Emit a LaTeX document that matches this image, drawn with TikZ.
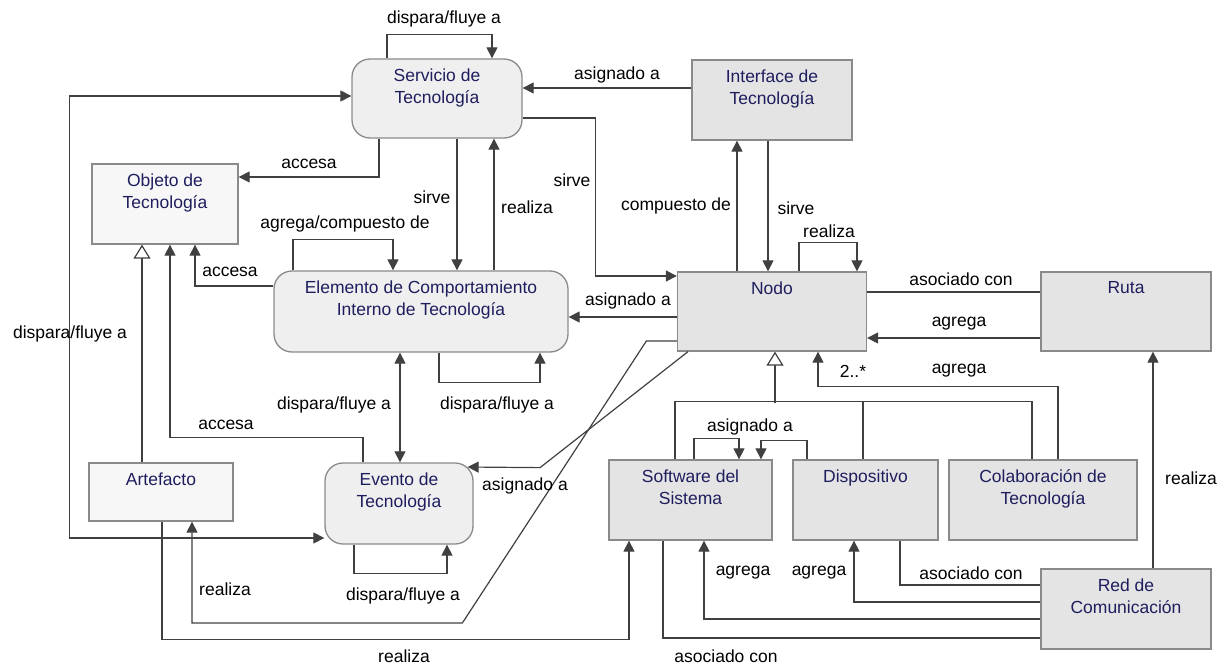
\documentclass[tikz,border=0pt]{standalone}
\usepackage{fontspec}
\setmainfont{Liberation Sans}
\usetikzlibrary{arrows.meta}
\definecolor{ink}{RGB}{30,30,95}
\definecolor{edge}{RGB}{138,138,138}
\definecolor{wire}{RGB}{64,64,64}
\definecolor{fillA}{RGB}{239,239,239}
\definecolor{fillB}{RGB}{228,228,228}
\definecolor{fillC}{RGB}{247,247,247}

\begin{document}
\begin{tikzpicture}[
  x=1pt,y=-1pt,
  >={Triangle[length=11pt,width=11pt]},
  every node/.style={font=\fontsize{17.5}{22.5}\selectfont},
  box/.style={draw=edge,line width=1.3pt,fill=fillB,inner sep=0pt},
  soft/.style={box,fill=fillA,rounded corners=18pt},
  pale/.style={box,fill=fillC},
  txt/.style={anchor=north,align=center,text=ink,inner xsep=2pt,inner ysep=10pt},
  wireline/.style={draw=wire,line width=1.2pt},
  arc/.style={wireline,->},
  gen/.style={wireline,-{Triangle[open,length=14pt,width=17pt,fill=white]}},
  lbl/.style={inner sep=0pt,text=black}
]
\useasboundingbox (0,0) rectangle (1226,668);

% elements
\node[soft,minimum width=170pt,minimum height=79pt,label={[txt]north:Servicio de\\Tecnología}] (srv) at (437,98.5) {};
\node[box,minimum width=160pt,minimum height=80pt,label={[txt]north:Interface de\\Tecnología}] (ifc) at (772,100) {};
\node[pale,minimum width=146pt,minimum height=80pt,label={[txt]north:Objeto de\\Tecnología}] (obj) at (165,204) {};
\node[soft,minimum width=294pt,minimum height=81pt,label={[txt]north:Elemento de Comportamiento\\Interno de Tecnología}] (elem) at (421,311.5) {};
\node[box,minimum width=189pt,minimum height=79pt,label={[txt]north:Nodo}] (nodo) at (772,311.5) {};
\node[box,minimum width=170pt,minimum height=79pt,label={[txt]north:Ruta}] (ruta) at (1126,311.5) {};
\node[pale,minimum width=144pt,minimum height=58pt,label={[txt]north:Artefacto}] (art) at (161,492) {};
\node[soft,minimum width=148pt,minimum height=81pt,label={[txt]north:Evento de\\Tecnología}] (evt) at (399,503.5) {};
\node[box,minimum width=163pt,minimum height=80pt,label={[txt]north:Software del\\Sistema}] (sw) at (690.5,500) {};
\node[box,minimum width=145pt,minimum height=80pt,label={[txt]north:Dispositivo}] (disp) at (865.5,500) {};
\node[box,minimum width=188pt,minimum height=80pt,label={[txt]north:Colaboración de\\Tecnología}] (colab) at (1043,500) {};
\node[box,minimum width=170pt,minimum height=80pt,label={[txt]north:Red de\\Comunicación}] (red) at (1126,609) {};

% relations
\draw[arc] ([xshift=-50pt]srv.north) -- ++(0,-24) -| ([xshift=55pt]srv.north);
\draw[arc] ([yshift=12pt]ifc.west) -- ([yshift=10.5pt]srv.east);
\draw[arc] ([yshift=-19.5pt]srv.east) -- ++(73,0) |- ([yshift=35.5pt]nodo.west);
\draw[arc] ([xshift=-58pt]srv.south) |- ([yshift=27pt]obj.east);
\draw[arc] ([xshift=20pt]srv.south) -- ([xshift=36pt]elem.north);
\draw[arc] ([xshift=73pt]elem.north) -- ([xshift=57pt]srv.south);
\draw[arc] ([xshift=-4pt]ifc.south) -- ([xshift=-4pt]nodo.north);
\draw[arc] ([xshift=-35pt]nodo.north) -- ([xshift=-35pt]ifc.south);
\draw[arc] ([xshift=27pt]nodo.north) -- ++(0,-29) -| ([xshift=85pt]nodo.north);
\draw[wireline] ([yshift=19.5pt]nodo.east) -- ([yshift=19.5pt]ruta.west);
\draw[arc] ([yshift=-26.5pt]ruta.west) -- ([yshift=-26.5pt]nodo.east);
\draw[arc] ([yshift=-5.5pt]nodo.west) -- ([yshift=-5.5pt]elem.east);
\draw[arc] ([xshift=-128pt]elem.north) -- ++(0,-31) -| ([xshift=-28pt]elem.north);
\draw[arc] ([yshift=25.5pt]elem.west) -| ([xshift=30pt]obj.south);
\draw[arc] ([xshift=18pt]elem.south) -- ++(0,30) -| ([xshift=119pt]elem.south);
\draw[arc,<->] ([xshift=-21pt]elem.south) -- ([xshift=1pt]evt.north);
\draw[arc] ([xshift=-36pt]evt.north) -- ++(0,-25) -| ([xshift=5pt]obj.south);
\draw[arc] ([xshift=-45pt]evt.south) -- ++(0,29) -| ([xshift=48pt]evt.south);
\draw[gen] ([xshift=-19pt]art.north) -- ([xshift=-23pt]obj.south);
\draw[arc,<->] ([yshift=2.5pt]srv.west) -- ++(-282,0) |- ([yshift=-34.5pt]evt.west);
\draw[arc] ([xshift=1pt]art.south) -- ++(0,118) -| ([xshift=-61.5pt]sw.south);
\draw[arc] ([yshift=-29.5pt]nodo.west) -- ++(-30.5,0) -- ++(-184,282) -| ([xshift=31pt]art.south);
\draw[arc] ([xshift=-84pt]nodo.south) -- ++(-148,116) -- ([xshift=-6pt,yshift=36.5pt]evt.east);

% specialisations of the node
\draw[wireline] ([xshift=-15.5pt]sw.north) |- ([xshift=-11pt,yshift=58pt]colab.north) -- ([xshift=-11pt]colab.north);
\draw[wireline] ([xshift=-2.5pt]disp.north) -- ++(0,-58);
\draw[gen] ([xshift=3pt,yshift=-51pt]nodo.south) -- ([xshift=3pt]nodo.south);

\draw[arc] ([xshift=15pt]colab.north) -- ++(0,-73) -| ([xshift=46pt]nodo.south);
\draw[arc] ([xshift=3.5pt]sw.north) -- ++(0,-21) -| ([xshift=48.5pt]sw.north);
\draw[arc] ([xshift=-58.5pt]disp.north) -- ++(0,-19) -| ([xshift=70.5pt]sw.north);
\draw[arc] ([yshift=-10pt]red.west) -| ([xshift=13.5pt]sw.south);
\draw[arc] ([yshift=7pt]red.west) -| ([xshift=-11.5pt]disp.south);
\draw[wireline] ([xshift=34.5pt]disp.south) |- ([yshift=24pt]red.west);
\draw[wireline] ([xshift=-27.5pt]sw.south) |- ([yshift=-29pt]red.west);
\draw[arc] ([xshift=27pt]red.north) -- ([xshift=27pt]ruta.south);

% relation names
\node[lbl] (t1) at (444,19) {dispara/fluye a};
\node[lbl] (t2) at (617,75) {asignado a};
\node[lbl] (t3) at (309,164) {accesa};
\node[lbl] (t4) at (432,197) {sirve};
\node[lbl] (t5) at (527,207) {realiza};
\node[lbl] (t6) at (572,180) {sirve};
\node[lbl] (t7) at (676,206) {compuesto de};
\node[lbl] (t8) at (796,208) {sirve};
\node[lbl] (t9) at (829,231) {realiza};
\node[lbl] (t10) at (345,224) {agrega/compuesto de};
\node[lbl] (t11) at (230,272) {accesa};
\node[lbl] (t12) at (628,301) {asignado a};
\node[lbl] (t13) at (961,279) {asociado con};
\node[lbl] (t14) at (959,324) {agrega};
\node[lbl] (t15) at (70,334) {dispara/fluye a};
\node[lbl] (t16) at (334,405) {dispara/fluye a};
\node[lbl] (t17) at (497,405) {dispara/fluye a};
\node[lbl] (t18) at (226,425) {accesa};
\node[lbl] (t19) at (853,371) {2..*};
\node[lbl] (t20) at (959,371) {agrega};
\node[lbl] (t21) at (750,427) {asignado a};
\node[lbl] (t22) at (525,486) {asignado a};
\node[lbl] (t23) at (225,589) {realiza};
\node[lbl] (t24) at (403,596) {dispara/fluye a};
\node[lbl] (t25) at (404,656) {realiza};
\node[lbl] (t26) at (726,656) {asociado con};
\node[lbl] (t27) at (743,573) {agrega};
\node[lbl] (t28) at (819,573) {agrega};
\node[lbl] (t29) at (971,573) {asociado con};
\node[lbl] (t30) at (1191,478) {realiza};
\end{tikzpicture}
\end{document}
